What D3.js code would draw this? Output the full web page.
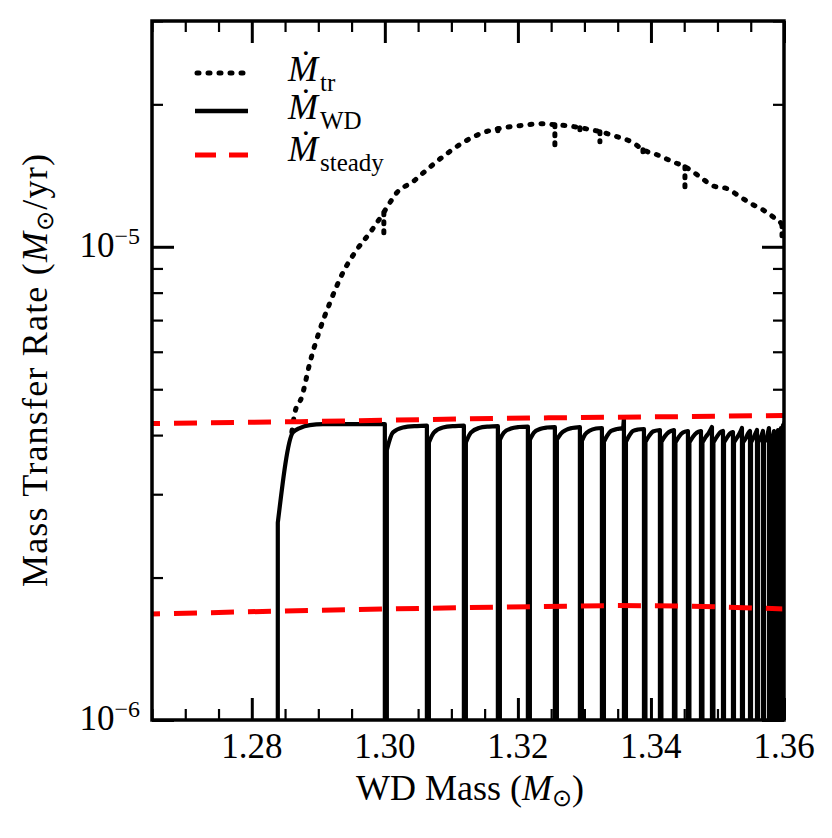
<!DOCTYPE html>
<html><head><meta charset="utf-8">
<script src="https://cdn.jsdelivr.net/npm/d3@7"></script>
<style>body{margin:0;background:#fff}svg{display:block}svg text{font-family:"Liberation Serif","Times New Roman",serif}</style>
</head><body><svg id="c" width="832" height="838"></svg>
<script>
// ---------- data (rates in units of 1e-6 Msun/yr) ----------
const xDomain = [1.265, 1.36];
const yDomain = [1, 30];
const xMajorTicks = [1.28, 1.30, 1.32, 1.34, 1.36];
const xTickLabels = ["1.28", "1.30", "1.32", "1.34", "1.36"];
const xMinorTicks = [1.265, 1.27, 1.275, 1.285, 1.29, 1.295, 1.305, 1.31, 1.315, 1.325, 1.33, 1.335, 1.345, 1.35, 1.355];
const yMajorTicks = [1, 10];
const yTickExponents = ["\u22126", "\u22125"];
const yMinorTicks = [2, 3, 4, 5, 6, 7, 8, 9, 20, 30];

// M_tr (dotted) main curve
const trMass = [1.28602, 1.28647, 1.28752, 1.28872, 1.29023, 1.29173, 1.29368, 1.29579, 1.29774, 1.29970, 1.30060,
  1.30180, 1.30421, 1.30632, 1.30872, 1.31173, 1.31474, 1.31699, 1.32030, 1.32376, 1.32556,
  1.32737, 1.32932, 1.33233, 1.33489, 1.33729, 1.33880, 1.34090, 1.34331,
  1.34511, 1.34737, 1.34932, 1.35143, 1.35338, 1.35534, 1.35684, 1.35835, 1.35970, 1.36000];
const trRate = [4.06, 4.46, 4.82, 5.68, 6.68, 7.61, 8.81, 9.86, 10.70, 11.74, 12.30,
  13.01, 13.72, 14.55, 15.50, 16.60, 17.42, 17.76, 18.03, 18.20, 18.11,
  18.03, 17.85, 17.51, 17.09, 16.60, 16.04, 15.65, 15.12,
  14.76, 14.06, 13.45, 13.27, 12.76, 12.27, 11.97, 11.57, 11.13, 10.92];
// short downward glitches of M_tr at the flashes
const trGlitchMass = [1.29985, 1.31699, 1.32556, 1.32932, 1.33233, 1.33880, 1.34511, 1.35970];
const trGlitchTop = [11.80, 17.76, 18.11, 17.85, 17.51, 16.04, 14.76, 11.13];
const trGlitchBottom = [10.35, 17.00, 16.04, 17.25, 16.67, 15.65, 13.39, 10.50];

// M_WD (solid): each cycle rises from below the axis, recovers, then drops at the next flash
const wdFloor = 0.5;
const wdCycleMass = [
  [1.28391, 1.28617, 1.28722, 1.28872, 1.29068, 1.30000],
  [1.30030, 1.30120, 1.30271, 1.30481, 1.30632],
  [1.30662, 1.30737, 1.30872, 1.31053, 1.31188],
  [1.31218, 1.31293, 1.31414, 1.31564, 1.31699],
  [1.31729, 1.31789, 1.31895, 1.32015, 1.32150],
  [1.32180, 1.32241, 1.32331, 1.32436, 1.32556],
  [1.32586, 1.32647, 1.32722, 1.32812, 1.32932],
  [1.32962, 1.33008, 1.33083, 1.33173, 1.33263],
  [1.33293, 1.33338, 1.33398, 1.33489, 1.33579, 1.33594],
  [1.33624, 1.33669, 1.33729, 1.33805, 1.33895],
  [1.33917, 1.33970, 1.34030, 1.34135],
  [1.34157, 1.34211, 1.34271, 1.34346],
  [1.34368, 1.34421, 1.34481, 1.34556],
  [1.34578, 1.34632, 1.34692, 1.34752],
  [1.34774, 1.34827, 1.34872, 1.34917],
  [1.34939, 1.34992, 1.35038, 1.35083],
  [1.35098, 1.35143, 1.35188, 1.35233],
  [1.35248, 1.35293, 1.35331, 1.35368],
  [1.35383, 1.35429, 1.35459, 1.35489],
  [1.35504, 1.35549, 1.35594],
  [1.35609, 1.35654, 1.35684],
  [1.35699, 1.35744, 1.35774],
  [1.35789, 1.35827, 1.35850],
  [1.35865, 1.35895, 1.35910],
  [1.35925, 1.35945, 1.35955],
  [1.35965, 1.35985],
  [1.35990, 1.36005]
];
const wdCycleRate = [
  [2.61, 4.05, 4.14, 4.20, 4.22, 4.22],
  [3.72, 4.05, 4.15, 4.18, 4.19],
  [3.86, 4.05, 4.15, 4.18, 4.19],
  [3.86, 4.05, 4.14, 4.17, 4.18],
  [3.91, 4.05, 4.13, 4.16, 4.17],
  [3.91, 4.05, 4.12, 4.15, 4.16],
  [3.91, 4.03, 4.10, 4.14, 4.16],
  [3.89, 4.01, 4.09, 4.13, 4.14],
  [3.87, 3.98, 4.08, 4.12, 4.14, 4.35],
  [3.87, 3.98, 4.08, 4.11, 4.12],
  [3.87, 3.98, 4.07, 4.10],
  [3.87, 3.98, 4.06, 4.10],
  [3.86, 3.97, 4.05, 4.08],
  [3.86, 3.97, 4.05, 4.08],
  [3.86, 3.97, 4.05, 4.16],
  [3.86, 3.97, 4.05, 4.08],
  [3.86, 3.95, 4.03, 4.06],
  [3.86, 3.95, 4.03, 4.14],
  [3.86, 3.95, 4.03, 4.08],
  [3.86, 3.97, 4.10],
  [3.86, 3.97, 4.08],
  [3.86, 3.97, 4.14],
  [3.86, 3.97, 4.08],
  [3.86, 3.98, 4.10],
  [3.87, 3.98, 4.14],
  [3.91, 4.20],
  [3.95, 4.25]
];

// M_steady (red dashed, two branches)
const steadyHighMass = [1.265, 1.2872, 1.3126, 1.3246, 1.3400, 1.36];
const steadyHighRate = [4.23, 4.27, 4.33, 4.35, 4.37, 4.40];
const steadyLowMass = [1.265, 1.285, 1.3126, 1.3346, 1.345, 1.36];
const steadyLowRate = [1.675, 1.700, 1.729, 1.745, 1.742, 1.717];

const legendSubscripts = ["tr", "WD", "steady"];

// ---------- layout ----------
const FONT = "Liberation Serif";
const L = 152, R = 784, T = 21, B = 720;
const svg = d3.select("#c");
const x = d3.scaleLinear().domain(xDomain).range([L, R]);
const y = d3.scaleLog().domain(yDomain).range([B, T]);

svg.append("defs").append("clipPath").attr("id", "clip")
  .append("rect").attr("x", L).attr("y", T).attr("width", R - L).attr("height", B - T);
const plot = svg.append("g").attr("clip-path", "url(#clip)");

const DOT = {w: 5, dash: "2 9"};
// dotted M_tr
const lineTr = d3.line().x(i => x(trMass[i])).y(i => y(trRate[i])).curve(d3.curveMonotoneX);
plot.append("path").attr("d", lineTr(d3.range(trMass.length)))
  .attr("fill", "none").attr("stroke", "#000").attr("stroke-width", DOT.w)
  .attr("stroke-dasharray", DOT.dash).attr("stroke-linecap", "round");
plot.append("g").selectAll("line").data(trGlitchMass).join("line")
  .attr("x1", d => x(d)).attr("x2", d => x(d))
  .attr("y1", (d, i) => y(trGlitchTop[i])).attr("y2", (d, i) => y(trGlitchBottom[i]))
  .attr("stroke", "#000").attr("stroke-width", DOT.w)
  .attr("stroke-dasharray", "2 7").attr("stroke-linecap", "round");

// solid M_WD
const curveGen = d3.line().x(d => x(d[0])).y(d => y(d[1])).curve(d3.curveMonotoneX);
wdCycleMass.forEach((ms, c) => {
  const pts = ms.map((m, i) => [m, wdCycleRate[c][i]]);
  const first = pts[0], last = pts[pts.length - 1];
  const d = `M${x(first[0])},${y(wdFloor)}` + curveGen(pts).replace(/^M/, "L") + `L${x(last[0])},${y(wdFloor)}`;
  plot.append("path").attr("d", d).attr("fill", "none").attr("stroke", "#000")
    .attr("stroke-width", 4.2).attr("stroke-linejoin", "round");
});

// red dashed steady
const lineS = d3.line().x(d => x(d[0])).y(d => y(d[1]));
[[steadyHighMass, steadyHighRate], [steadyLowMass, steadyLowRate]].forEach(([ms, rs]) => {
  plot.append("path").attr("d", lineS(ms.map((m, i) => [m, rs[i]])))
    .attr("fill", "none").attr("stroke", "#ff0000").attr("stroke-width", 5)
    .attr("stroke-dasharray", "23 14").attr("stroke-dashoffset", 15);
});

// ---------- axes: inward ticks on all four sides ----------
function tickAxis(gen, scale, vals, size, sw, tr) {
  const g = svg.append("g").attr("transform", tr)
    .call(gen(scale).tickValues(vals).tickSize(-size).tickFormat(""));
  g.select(".domain").remove();
  g.selectAll("line").attr("stroke", "#000").attr("stroke-width", sw);
}
tickAxis(d3.axisBottom, x, xMajorTicks, 22, 3, `translate(0,${B})`);
tickAxis(d3.axisBottom, x, xMinorTicks, 11, 2.2, `translate(0,${B})`);
tickAxis(d3.axisTop, x, xMajorTicks, 22, 3, `translate(0,${T})`);
tickAxis(d3.axisTop, x, xMinorTicks, 11, 2.2, `translate(0,${T})`);
tickAxis(d3.axisLeft, y, yMajorTicks, 22, 3, `translate(${L},0)`);
tickAxis(d3.axisLeft, y, yMinorTicks, 11, 2.2, `translate(${L},0)`);
tickAxis(d3.axisRight, y, yMajorTicks, 22, 3, `translate(${R},0)`);
tickAxis(d3.axisRight, y, yMinorTicks, 11, 2.2, `translate(${R},0)`);

svg.append("rect").attr("x", L).attr("y", T).attr("width", R - L).attr("height", B - T)
  .attr("fill", "none").attr("stroke", "#000").attr("stroke-width", 3.5);

// tick labels
svg.append("g").selectAll("text").data(xMajorTicks).join("text")
  .attr("x", d => x(d)).attr("y", B + 38).attr("text-anchor", "middle")
  .attr("font-family", FONT).attr("font-size", 35).text((d, i) => xTickLabels[i]);

const yl = svg.append("g").selectAll("text").data(yMajorTicks).join("text")
  .attr("x", 140).attr("y", d => y(d) + 10).attr("text-anchor", "end")
  .attr("font-family", FONT).attr("font-size", 35);
yl.append("tspan").text("10");
yl.append("tspan").attr("font-size", 24).attr("dy", -13).text((d, i) => yTickExponents[i]);

// axis titles
const xt = svg.append("text").attr("x", 470).attr("y", 800).attr("text-anchor", "middle")
  .attr("font-family", FONT).attr("font-size", 36);
xt.append("tspan").text("WD Mass (");
xt.append("tspan").attr("font-style", "italic").text("M");
xt.append("tspan").attr("font-size", 24).attr("dy", 6).text("\u2299");
xt.append("tspan").attr("dy", -6).text(")");

const yt = svg.append("text").attr("transform", "translate(47,370) rotate(-90)")
  .attr("text-anchor", "middle").attr("font-family", FONT).attr("font-size", 36)
  .attr("letter-spacing", 1.2);
yt.append("tspan").text("Mass Transfer Rate (");
yt.append("tspan").attr("font-style", "italic").text("M");
yt.append("tspan").attr("font-size", 24).attr("dy", 6).text("\u2299");
yt.append("tspan").attr("dy", -6).text("/yr)");

// ---------- legend ----------
const legY = [73, 111, 155];
const legBase = [81, 118.5, 160.5];
const legStyles = [
  {stroke: "#000", w: DOT.w, dash: "2 9", cap: "round"},
  {stroke: "#000", w: 4.5, dash: null, cap: "butt"},
  {stroke: "#ff0000", w: 5, dash: "21 13", cap: "butt"}
];
legStyles.forEach((s, i) => {
  svg.append("line").attr("x1", s.cap === "round" ? 197 : 195).attr("x2", 248).attr("y1", legY[i]).attr("y2", legY[i])
    .attr("stroke", s.stroke).attr("stroke-width", s.w)
    .attr("stroke-dasharray", s.dash).attr("stroke-linecap", s.cap);
  const t = svg.append("text").attr("x", 288).attr("y", legBase[i])
    .attr("font-family", FONT).attr("font-size", 36);
  t.append("tspan").attr("font-style", "italic").text("\u1E40");
  t.append("tspan").attr("font-size", 25).attr("dy", 10).attr("dx", 2).text(legendSubscripts[i]);
});
</script></body></html>
